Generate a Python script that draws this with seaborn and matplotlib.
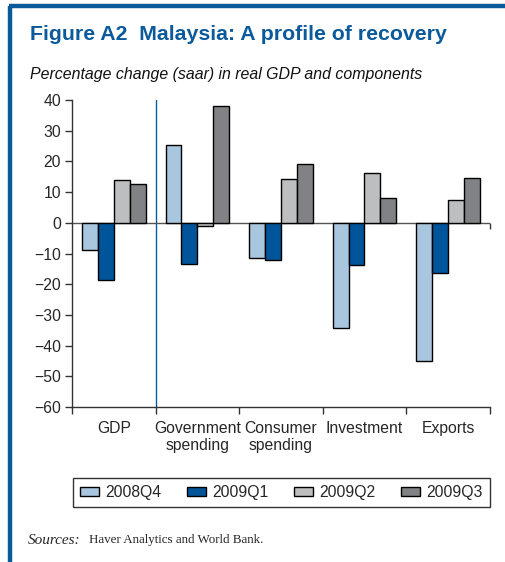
import pandas as pd
import matplotlib
matplotlib.use("Agg")
import matplotlib.pyplot as plt
import seaborn as sns
from matplotlib.lines import Line2D

# ===================== DATA =====================
components = ["GDP", "Government\nspending", "Consumer\nspending", "Investment", "Exports"]
quarters   = ["2008Q4", "2009Q1", "2009Q2", "2009Q3"]
q2008q4 = [-9.0, 25.3, -11.4, -34.3, -45.0]
q2009q1 = [-18.7, -13.5, -12.2, -13.9, -16.5]
q2009q2 = [14.0, -1.1, 14.4, 16.2, 7.4]
q2009q3 = [12.5, 38.0, 19.1, 8.2, 14.5]
yticks  = list(range(-60, 41, 10))

colors = ["#A8C6DD", "#00559A", "#BDBEC0", "#808285"]
BLUE   = "#0A5A9C"

rows = []
for q, vals in zip(quarters, [q2008q4, q2009q1, q2009q2, q2009q3]):
    for c, v in zip(components, vals):
        rows.append({"component": c, "quarter": q, "value": v})
df = pd.DataFrame(rows)

# ===================== STYLE =====================
sns.set_theme(style="ticks")
plt.rcParams["font.family"] = ["Liberation Sans", "DejaVu Sans"]

fig = plt.figure(figsize=(5.05, 5.62), dpi=100)
ax = fig.add_axes([0.1426, 0.2758, 0.8274, 0.5462])

sns.barplot(data=df, x="component", y="value", hue="quarter",
            hue_order=quarters, order=components, palette=colors,
            edgecolor="black", linewidth=1.0, width=0.76, gap=0,
            saturation=1, errorbar=None, ax=ax)

ax.set_xlim(-0.5, len(components) - 0.5)
ax.set_ylim(-60, 40)
ax.set_yticks(yticks)
ax.set_yticklabels([str(t).replace("-", "\u2212") for t in yticks], fontsize=11.3)
ax.tick_params(axis="y", direction="out", length=5, width=1, color="#333333", pad=3)

# category boundaries as ticks, labels centred between them
ax.set_xticks([i - 0.5 for i in range(len(components) + 1)])
ax.set_xticklabels([])
ax.tick_params(axis="x", which="major", direction="out", length=5, width=1, color="#333333")
ax.set_xticks(range(len(components)), minor=True)
ax.set_xticklabels(components, minor=True, fontsize=11.3, linespacing=1.2)
ax.tick_params(axis="x", which="minor", length=0, pad=10)
ax.set_xlabel("")
ax.set_ylabel("")

for s in ["top", "right"]:
    ax.spines[s].set_visible(False)
for s in ["left", "bottom"]:
    ax.spines[s].set_color("#333333")
    ax.spines[s].set_linewidth(1)

ax.axhline(0, color="#555555", lw=1, zorder=0.5)
ax.vlines(len(components) - 0.5, -2, 0, color="#333333", lw=1, clip_on=False)
ax.axvline(0.5, color=BLUE, lw=1, zorder=0.4)

# legend
handles, labels = ax.get_legend_handles_labels()
leg = ax.legend(handles, labels, loc="upper left",
                bbox_to_anchor=(0.002, -0.3157, 0.998, 0.0847),
                ncol=4, frameon=True, fancybox=False, edgecolor="black",
                fontsize=11.3, handlelength=1.2, handleheight=0.5, handletextpad=0.4,
                columnspacing=1.5, borderpad=0.45, borderaxespad=0, mode="expand")
leg.get_frame().set_linewidth(1)

# titles
fig.text(30 / 505, 1 - 35 / 562, "Figure A2  Malaysia: A profile of recovery",
         fontsize=15.3, fontweight="bold", color=BLUE, va="center", ha="left")
fig.text(30 / 505, 1 - 74 / 562, "Percentage change (saar) in real GDP and components",
         fontsize=11.4, style="italic", color="#111111", va="center", ha="left")
fig.text(28 / 505, 1 - 540 / 562, "Sources:", fontsize=11, style="italic",
         family=["Liberation Serif", "DejaVu Serif"], va="center", ha="left")
fig.text(89 / 505, 1 - 540 / 562, "Haver Analytics and World Bank.", fontsize=9.4,
         family=["Liberation Serif", "DejaVu Serif"], va="center", ha="left")

# blue frame (top and left)
fig.add_artist(Line2D([10 / 505, 10 / 505], [0, 1 - 6 / 562], color=BLUE, lw=3.2,
                      transform=fig.transFigure, solid_capstyle="butt"))
fig.add_artist(Line2D([8.5 / 505, 1], [1 - 6 / 562, 1 - 6 / 562], color=BLUE, lw=3.2,
                      transform=fig.transFigure, solid_capstyle="butt"))

fig.savefig("out.png", dpi=100)
